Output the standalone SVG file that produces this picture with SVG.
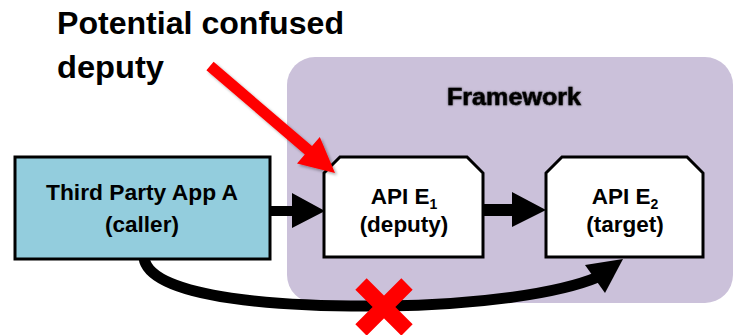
<svg xmlns="http://www.w3.org/2000/svg" width="733" height="335" viewBox="0 0 733 335">
  <defs>
    <filter id="softShadow" x="-20%" y="-20%" width="140%" height="140%">
      <feGaussianBlur in="SourceAlpha" stdDeviation="1.5"/>
      <feOffset dx="1.5" dy="1.5" result="b"/>
      <feComponentTransfer><feFuncA type="linear" slope="0.35"/></feComponentTransfer>
      <feMerge><feMergeNode/><feMergeNode in="SourceGraphic"/></feMerge>
    </filter>
    <filter id="textGlow" x="-10%" y="-30%" width="120%" height="160%">
      <feGaussianBlur in="SourceAlpha" stdDeviation="0.8" result="g"/>
      <feComponentTransfer in="g"><feFuncA type="linear" slope="0.5"/></feComponentTransfer>
      <feMerge><feMergeNode/><feMergeNode in="SourceGraphic"/></feMerge>
    </filter>
  </defs>
  <style>
    text { font-family: "Liberation Sans", Arial, sans-serif; font-weight: bold; fill: #000; }
    .lbl { font-size: 22.5px; text-anchor: middle; }
    .sub { font-size: 14px; }
    .box { stroke: #000; stroke-width: 3; stroke-linejoin: miter; }
    .api { fill: #fff; }
    .head { fill: #000; }
  </style>
  <rect width="733" height="335" fill="#fff"/>

  <!-- framework region -->
  <g id="framework">
    <rect x="287" y="57" width="446" height="246" rx="28" ry="28" fill="#CBC1DA"/>
    <text x="514" y="105" font-size="23" text-anchor="middle" fill="#111" stroke="#111" stroke-width="0.6" textLength="134" lengthAdjust="spacingAndGlyphs" filter="url(#textGlow)">Framework</text>
  </g>

  <!-- connectors -->
  <g id="connectors">
    <!-- caller -> deputy -->
    <polygon class="head" points="270,206 292,206 292,193 325,211 292,228 292,216 270,216"/>
    <!-- deputy -> target -->
    <polygon class="head" points="483,204 512,204 512,192 546,210 512,227 512,216 483,216"/>
    <!-- blocked direct call -->
    <path d="M144,258 C150,300 290,307 385,306 C480,305 560,293 598,277" fill="none" stroke="#000" stroke-width="11"/>
    <polygon class="head" points="623,259 585,265 605,293"/>
  </g>

  <g id="caller">
    <rect class="box" x="15" y="157" width="255" height="102" fill="#93CDDD"/>
    <text class="lbl" x="142" y="200" textLength="192" lengthAdjust="spacingAndGlyphs">Third Party App A</text>
    <text class="lbl" x="142" y="232">(caller)</text>
  </g>

  <g id="deputy">
    <path class="box api" d="M324,173 L340,157 L467,157 L483,173 L483,257 L324,257 Z"/>
    <text class="lbl" x="404" y="204">API E<tspan class="sub" dy="5">1</tspan></text>
    <text class="lbl" x="404" y="232">(deputy)</text>
  </g>

  <g id="target">
    <path class="box api" d="M546,173 L562,157 L687,157 L703,173 L703,257 L546,257 Z"/>
    <text class="lbl" x="625" y="204">API E<tspan class="sub" dy="5">2</tspan></text>
    <text class="lbl" x="625" y="232">(target)</text>
  </g>

  <!-- red cross over the direct call -->
  <g id="blocked-mark">
    <path d="M361,284 L407,330 M407,284 L361,330" stroke="#FF0000" stroke-width="16" fill="none"/>
  </g>

  <!-- callout -->
  <g id="callout">
    <text x="57" y="34" font-size="31" textLength="287" lengthAdjust="spacingAndGlyphs">Potential confused</text>
    <text x="57" y="78" font-size="31" textLength="107" lengthAdjust="spacingAndGlyphs">deputy</text>
    <polygon points="206.4,70.2 213.6,61.8 312,146 319.8,136.9 335,173 297,163.5 304.8,154.4" fill="#FF0000" filter="url(#softShadow)"/>
  </g>
</svg>
